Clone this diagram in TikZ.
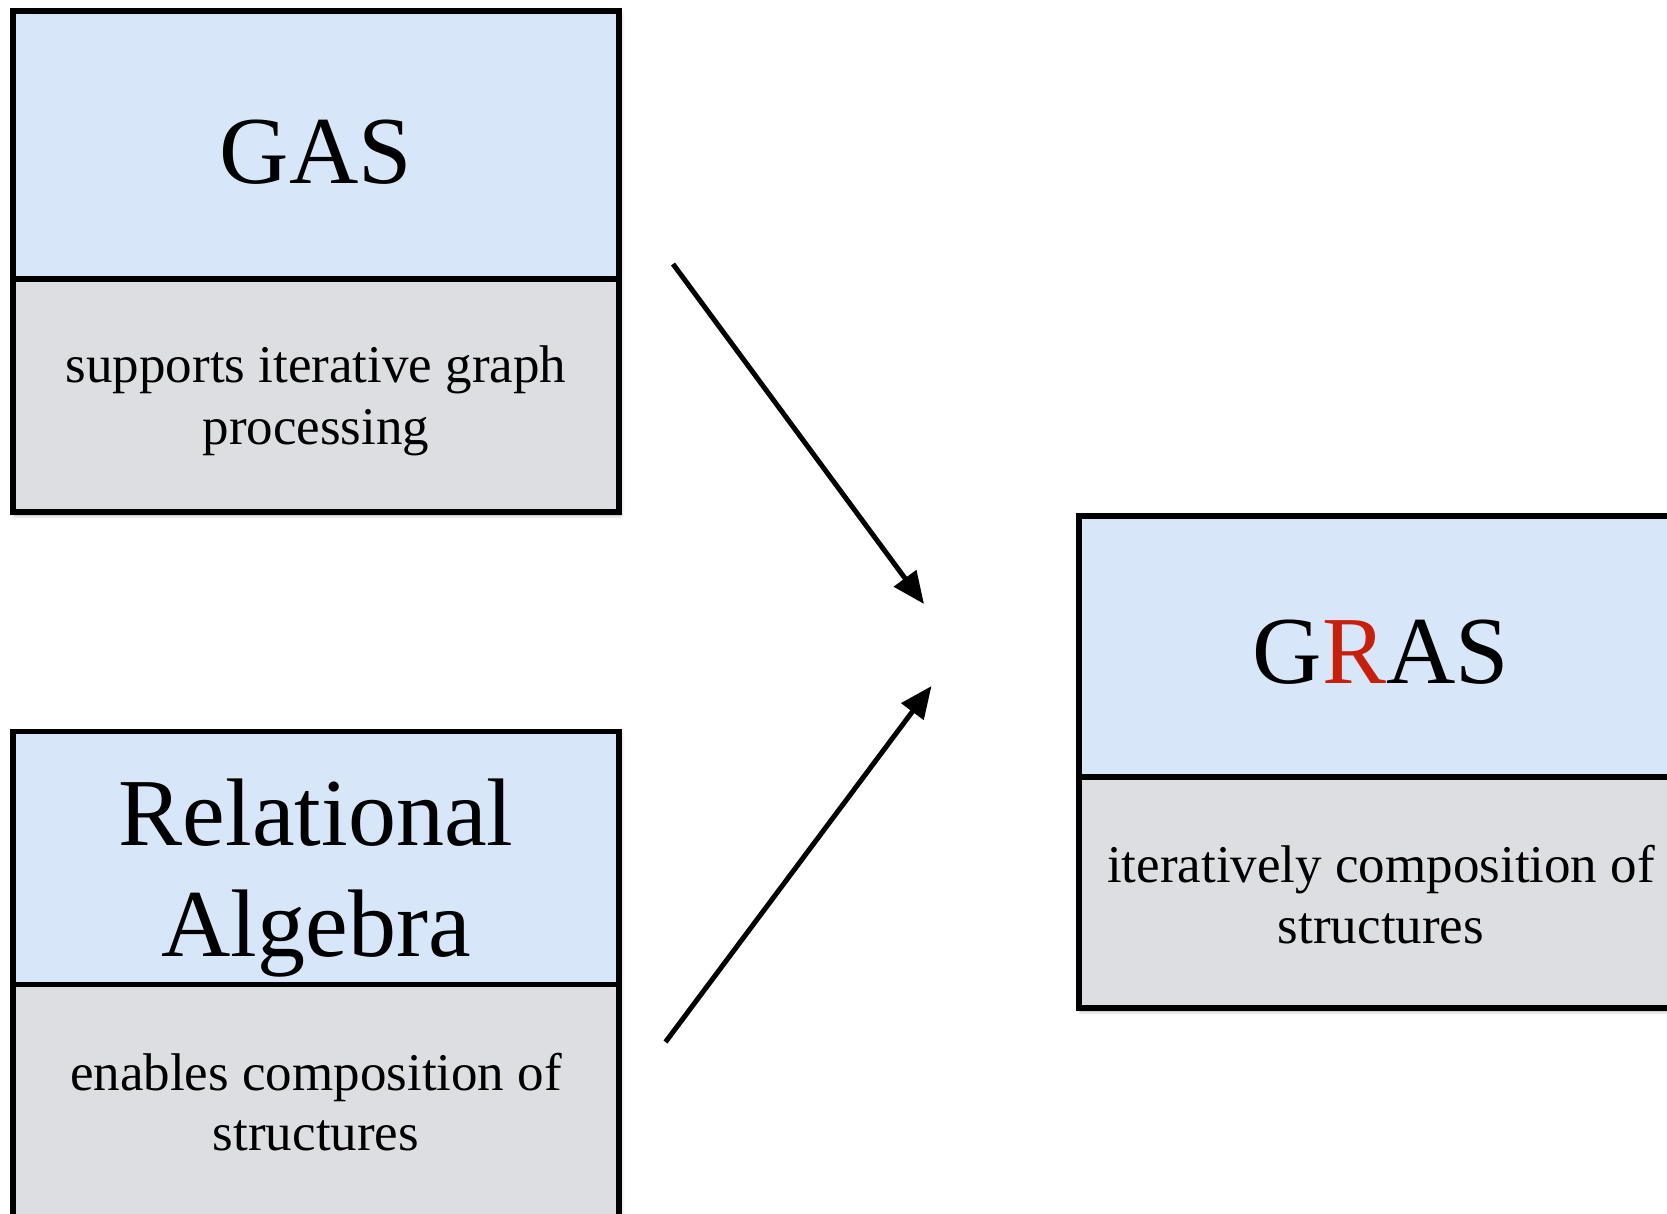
\documentclass[tikz,border=0pt]{standalone}
\usepackage{fontspec}
\setmainfont{Liberation Serif}
\usetikzlibrary{arrows.meta,shadows.blur}

\definecolor{headblue}{RGB}{215,230,248}
\definecolor{bodygray}{RGB}{221,222,225}
\definecolor{accentred}{RGB}{198,32,12}

\newcommand{\headfont}{\fontsize{96}{111}\selectfont}
\newcommand{\bodyfont}{\fontsize{53}{62}\selectfont}

\tikzset{
  headpart/.style={fill=headblue, draw=black, line width=5.5pt},
  bodypart/.style={fill=bodygray, draw=black, line width=5.5pt},
  boxshadow/.style={blur shadow={shadow xshift=1.5pt, shadow yshift=-3pt,
                    shadow blur radius=4pt, shadow opacity=35}},
  headtext/.style={anchor=base, inner sep=0pt, font=\headfont},
  bodytext/.style={anchor=base, inner sep=0pt, font=\bodyfont},
  flow/.style={line width=5pt, -{Triangle[length=32pt, width=27pt, fill=black]}}
}

\begin{document}
\begin{tikzpicture}[x=1pt, y=-1pt]
  \useasboundingbox (0,0) rectangle (1667,1213);

  % GAS block
  \fill[boxshadow, white] (13,11) rectangle (619,512);
  \draw[headpart] (13,11) rectangle (619,279);
  \draw[bodypart] (13,279) rectangle (619,512);
  \node[headtext] (gas) at (316,183) {GAS};
  \node[bodytext] (gasA) at (316,382.5) {supports iterative graph};
  \node[bodytext] (gasB) at (316,444) {processing};

  % Relational Algebra block (runs past the lower edge)
  \fill[boxshadow, white] (13,731.5) rectangle (619,1240);
  \draw[headpart] (13,731.5) rectangle (619,984.5);
  \draw[bodypart] (13,984.5) rectangle (619,1240);
  \node[headtext] (relA) at (316,845) {Relational};
  \node[headtext] (relB) at (316,956) {Algebra};
  \node[bodytext] (ra1) at (316,1090) {enables composition of};
  \node[bodytext] (ra2) at (316,1150.5) {structures};

  % GRAS block (runs past the right edge)
  \fill[boxshadow, white] (1079,516) rectangle (1690,1008);
  \draw[headpart] (1079,516) rectangle (1690,777);
  \draw[bodypart] (1079,777) rectangle (1690,1008);
  \node[headtext] (gras) at (1381,683.5) {G\textcolor{accentred}{R}AS};
  \node[bodytext] (gr1) at (1381,882.5) {iteratively composition of};
  \node[bodytext] (gr2) at (1381,943) {structures};

  % arrows converging on GRAS
  \coordinate (t1) at (673,264);
  \coordinate (h1) at (924,604);
  \coordinate (t2) at (665.5,1042);
  \coordinate (h2) at (931.5,686);
  \draw[flow] (t1) -- (h1);
  \draw[flow] (t2) -- (h2);
\end{tikzpicture}
\end{document}
